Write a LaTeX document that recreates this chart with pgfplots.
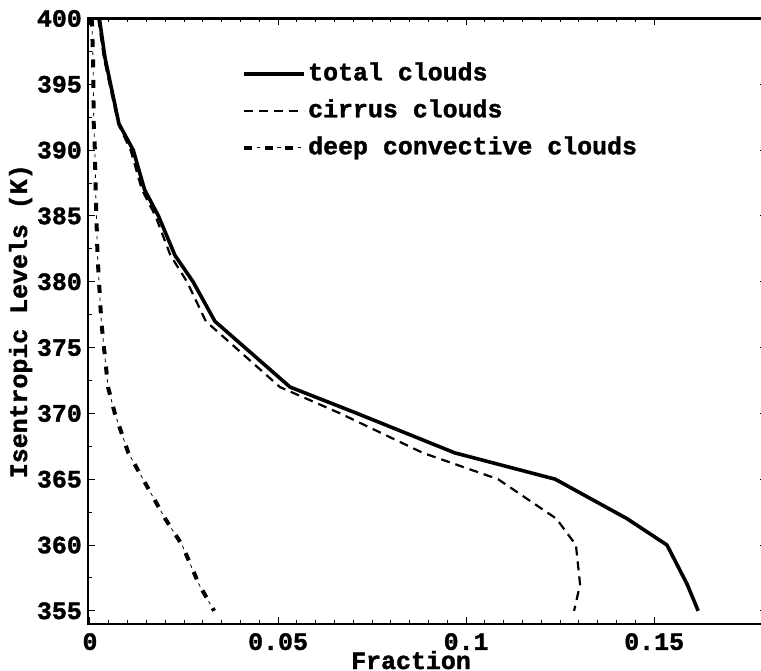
\documentclass[border=0pt]{standalone}
\usepackage{pgfplots}
\usepackage{pgfplotstable}
\pgfplotsset{compat=1.18}
\usepackage{fontspec}
\setmainfont{Liberation Mono}[BoldFont={Liberation Mono Bold}, BoldFeatures={FakeBold=1.5}]
\newcommand{\cf}{\fontsize{25}{25}\selectfont\bfseries}

\pgfplotstableread{
theta frac
400 0.0025
397 0.0040
392 0.0077
390 0.0115
387 0.0145
385 0.0182
382 0.0226
380 0.0274
377 0.0332
372 0.0532
370 0.0710
367 0.0970
365 0.1237
362 0.1428
360 0.1534
357 0.1588
355 0.1617
}\total

\pgfplotstableread{
theta frac
400 0.0022
397 0.0037
392 0.0075
390 0.0108
387 0.0138
385 0.0174
382 0.0214
380 0.0258
377 0.0308
372 0.0505
370 0.0665
367 0.0885
365 0.1085
362 0.1240
360 0.1292
357 0.1303
355 0.1287
}\cirrus

\pgfplotstableread{
theta frac
400 0.0005
397 0.0008
392 0.0010
390 0.0013
387 0.0015
385 0.0017
382 0.0020
380 0.0024
377 0.0030
372 0.0048
370 0.0066
367 0.0102
365 0.0141
362 0.0200
360 0.0245
357 0.0290
355 0.0330
}\deep

\begin{document}
\begin{tikzpicture}
\begin{axis}[
  scale only axis,
  width=679bp, height=605.5bp,
  xmin=-0.00053, xmax=0.18,
  ymin=354, ymax=400,
  xtick={0,0.05,0.1,0.15},
  xticklabels={0,0.05,0.1,0.15},
  ytick={355,360,...,400},
  minor x tick num=9,
  minor y tick num=1,
  /pgf/number format/assume math mode=true,
  tick align=inside,
  major tick length=7bp,
  minor tick length=4bp,
  every tick/.style={black, line width=1bp},
  axis line style={line width=2.6bp},
  tick label style={font=\cf, inner sep=0pt},
  yticklabel style={xshift=-6bp},
  xticklabel style={yshift=-9bp},
  xlabel={Fraction},
  ylabel={Isentropic Levels (K)},
  label style={font=\cf},
  xlabel style={at={(axis description cs:0.4757,0)}, anchor=base, yshift=-45bp, inner sep=0pt},
  ylabel style={at={(axis description cs:0,0.5)}, rotate=0, anchor=base, yshift=61bp, inner sep=0pt},
  legend image code/.code={\draw[#1] (0bp,0bp) -- (60bp,0bp);},
  legend cell align=left,
  legend style={draw=none, fill=none, font=\cf,
    at={(axis description cs:0.2268,0.928)}, anchor=north west,
    inner sep=0pt, row sep=14bp, column sep=2bp,
    nodes={inner sep=0pt, text height=18bp, text depth=5bp}},
]
\addplot[black, line width=3.6bp, line join=round] table[x=frac, y=theta] {\total};
\addlegendentry{total clouds}
\addplot[black, line width=2.2bp, dash pattern=on 9bp off 6bp] table[x=frac, y=theta] {\cirrus};
\addlegendentry{cirrus clouds}
\addplot[black, line width=4bp, dash pattern=on 8bp off 12.5bp,
  postaction={draw, black, line width=0.8bp, dash pattern=on 0bp off 12.5bp on 3.5bp off 4.5bp}]
  table[x=frac, y=theta] {\deep};
\addlegendentry{deep convective clouds}
\end{axis}
\pgfresetboundingbox
\path[use as bounding box] ([xshift=-88bp,yshift=-47bp]current axis.south west) rectangle ++(761bp,671bp);
\end{tikzpicture}
\end{document}
